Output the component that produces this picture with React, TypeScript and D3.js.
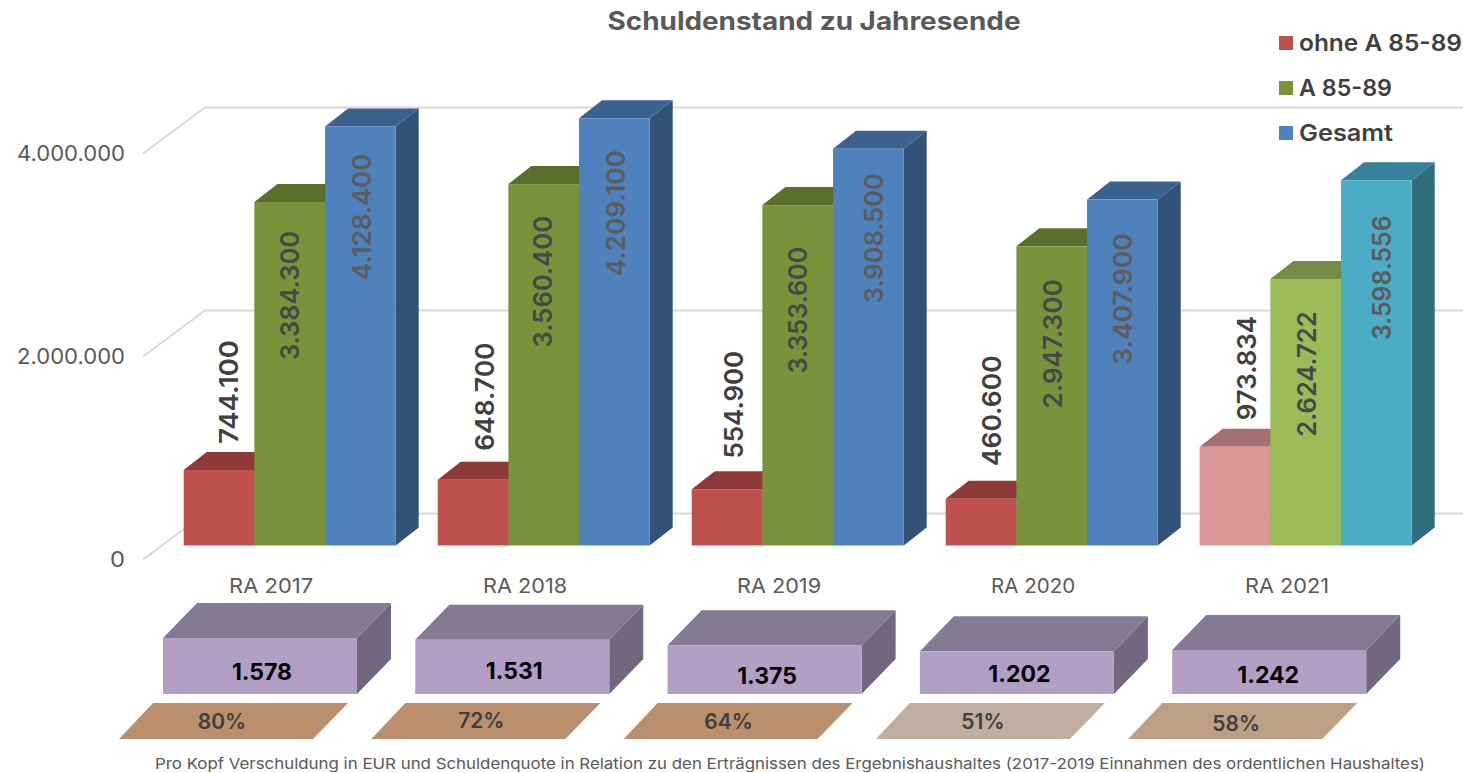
import React from "react";
import * as d3 from "d3";

const categories = ["RA 2017", "RA 2018", "RA 2019", "RA 2020", "RA 2021"];
const seriesNames = ["ohne A 85-89", "A 85-89", "Gesamt"];
const ohneValues = [744100, 648700, 554900, 460600, 973834];
const aValues = [3384300, 3560400, 3353600, 2947300, 2624722];
const gesamtValues = [4128400, 4209100, 3908500, 3407900, 3598556];
const proKopf = [1578, 1531, 1375, 1202, 1242];
const quote = [80, 72, 64, 51, 58];
const yTicks = [0, 2000000, 4000000];

const fmt = (v: number) => d3.format(",")(v).replace(/,/g, ".");
const FONT = "Inter, 'Open Sans', sans-serif";

type Shade = { front: string; top: string; side: string };
const normal: Shade[] = [
  { front: "#c0504d", top: "#8e3a38", side: "#8e3a38" },
  { front: "#7a933b", top: "#5b6f2c", side: "#5b6f2c" },
  { front: "#4f81bd", top: "#3b618f", side: "#325278" },
];
const highlight: Shade[] = [
  { front: "#d99694", top: "#a4706f", side: "#a4706f" },
  { front: "#9bbb59", top: "#748c43", side: "#748c43" },
  { front: "#4bacc6", top: "#38819a", side: "#316d7e" },
];
const boxShade: Shade = { front: "#b19fc5", top: "#857a94", side: "#71677e" };
const quoteFill = ["#bb8f6c", "#bb8f6c", "#bb8f6c", "#bfae9e", "#bd9f86"];

const line = d3.line();
const poly = (pts: [number, number][]) => line(pts) + "Z";

const yFront = d3.scaleLinear().domain([0, 4000000]).range([545.5, 139.5]);
const x0 = d3.scaleBand<string>().domain(categories).range([162.7, 1432.7]);
const x1 = d3.scaleBand<number>().domain([0, 1, 2]).range([21, 233]);
const boxX = d3.scaleBand<string>().domain(categories).range([163, 1424.5]);
const boxH = d3.scaleLinear().domain([0, 1578]).range([0, 56]);

const DX = 23, DY = 18;
const WALL_DX = 62, WALL_DY = 46;
const BOX_DX = 34, BOX_DY = 35;

// Hand placement of the value labels, as in the source chart: distance from the bar top and from the bar centre.
const labelAlong = [
  [-78, 93.5, 90.5],
  [-83, 97.5, 95],
  [-84.5, 105, 89.5],
  [-88, 97.5, 99.5],
  [-78.5, 95, 97.5],
];
const labelAcross = [
  [9, 0, 1],
  [11, -1, 1],
  [6, 0, 5],
  [10, 1, 0],
  [11, 1, 5],
];
const boxLabelDx = [99, 99, 99.5, 99.5, 96];
const boxLabelY = [680, 679, 684, 682, 683];
const quoteLabelDx = [103, 110, 105, 107, 108];
const quoteLabelY = [729, 728, 729, 729, 731];

// Advance widths (em) of the source typeface, so the rotated labels take up the same length.
const glyphEm: Record<string, number> = { "0": 0.68, "1": 0.39, "2": 0.6, "3": 0.6, "4": 0.7, "5": 0.6, "6": 0.64, "7": 0.6, "8": 0.63, "9": 0.64, ".": 0.24 };
const labelLen = (s: string, size: number) => d3.sum(s.split(""), (c) => glyphEm[c]) * size;

const series = [ohneValues, aValues, gesamtValues];
const legendLen = [163, 93, 94];

export default function App() {
  return (
    <svg width={1463} height={773} style={{ position: "absolute", left: 0, top: 0, display: "block", background: "#fff" }} fontFamily={FONT}>
      <text x={814} y={30} textAnchor="middle" fontSize={25} fontWeight={700} fill="#595959" textLength={413} lengthAdjust="spacingAndGlyphs">Schuldenstand zu Jahresende</text>

      {yTicks.map((t) => {
        const yf = yFront(t) + 14;
        const xf = 143;
        const label = fmt(t);
        return (
          <g key={t}>
            <path d={line([[xf, yf], [xf + WALL_DX, yf - WALL_DY], [1463, yf - WALL_DY]])!} fill="none" stroke="#d9d9d9" strokeWidth={2} />
            <text x={125} y={yf + 7} textAnchor="end" fontSize={21} fill="#595959" textLength={t === 0 ? 15 : 108} lengthAdjust="spacingAndGlyphs">{label}</text>
          </g>
        );
      })}

      {categories.map((c, i) => (
        <g key={c}>
          {series.map((s, k) => {
            const x = x0(c)! + x1(k)!;
            const w = x1.bandwidth();
            const top = yFront(s[i]);
            const base = yFront(0);
            const sh = (i === 4 ? highlight : normal)[k];
            return (
              <g key={k}>
                <path d={poly([[x + w, top], [x + w + DX, top - DY], [x + w + DX, base - DY], [x + w, base]])} fill={sh.side} />
                <path d={poly([[x, top], [x + DX, top - DY], [x + w + DX, top - DY], [x + w, top]])} fill={sh.top} />
                <rect x={x} y={top} width={w} height={base - top} fill={sh.front} />
              </g>
            );
          })}
        </g>
      ))}

      {categories.map((c, i) =>
        series.map((s, k) => {
          const x = x0(c)! + x1(k)! + x1.bandwidth() / 2 + labelAcross[i][k];
          const cy = yFront(s[i]) + labelAlong[i][k];
          const label = fmt(s[i]);
          return (
            <text key={k} transform={`translate(${x},${cy}) rotate(-90)`} textAnchor="middle" dominantBaseline="central" fontSize={26} fontWeight={600}
              fill={k === 0 ? "#404040" : k === 1 ? "#484848" : "#5c5c5c"} textLength={labelLen(label, 26)} lengthAdjust="spacingAndGlyphs">
              {label}
            </text>
          );
        })
      )}

      {categories.map((c) => (
        <text key={c} x={x0(c)! + x0.bandwidth() / 2 - 18.6} y={593} textAnchor="middle" fontSize={20} fill="#595959" textLength={84} lengthAdjust="spacingAndGlyphs">{c}</text>
      ))}

      {categories.map((c, i) => {
        const x = boxX(c)!;
        const w = 194;
        const base = 694;
        const top = base - boxH(proKopf[i]);
        return (
          <g key={c}>
            <path d={poly([[x + w, top], [x + w + BOX_DX, top - BOX_DY], [x + w + BOX_DX, base - BOX_DY], [x + w, base]])} fill={boxShade.side} />
            <path d={poly([[x, top], [x + BOX_DX, top - BOX_DY], [x + w + BOX_DX, top - BOX_DY], [x + w, top]])} fill={boxShade.top} />
            <rect x={x} y={top} width={w} height={base - top} fill={boxShade.front} />
            <text x={x + boxLabelDx[i]} y={boxLabelY[i]} textAnchor="middle" fontSize={23} fontWeight={700} fill="#000">{fmt(proKopf[i])}</text>
          </g>
        );
      })}

      {categories.map((c, i) => {
        const x = boxX(c)! - 44;
        const w = 194;
        return (
          <g key={c}>
            <path d={poly([[x, 739], [x + 34, 703], [x + w + 35, 703], [x + w, 739]])} fill={quoteFill[i]} />
            <text x={x + quoteLabelDx[i]} y={quoteLabelY[i]} textAnchor="middle" fontSize={21} fontWeight={600} fill="#404040">{quote[i]}%</text>
          </g>
        );
      })}

      {seriesNames.map((n, k) => (
        <g key={n}>
          <rect x={1279} y={36 + k * 45} width={14} height={14} fill={normal[k].front} />
          <text x={1299} y={51 + k * 45} fontSize={23} fontWeight={600} fill="#404040" textLength={legendLen[k]} lengthAdjust="spacingAndGlyphs">{n}</text>
        </g>
      ))}

      <text x={155} y={769} fontSize={15} fill="#595959" textLength={1270} lengthAdjust="spacingAndGlyphs">Pro Kopf Verschuldung in EUR und Schuldenquote in Relation zu den Erträgnissen des Ergebnishaushaltes (2017-2019 Einnahmen des ordentlichen Haushaltes)</text>
    </svg>
  );
}
